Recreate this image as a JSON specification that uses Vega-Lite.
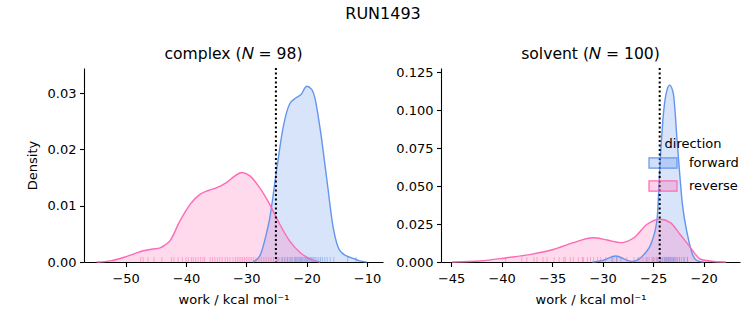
{
  "$schema": "https://vega.github.io/schema/vega-lite/v6.json",
  "padding": {"left": 26, "top": 5, "right": 5, "bottom": 5},
  "spacing": 12,
  "config": {
    "font": "DejaVu Sans",
    "view": {"stroke": null},
    "axis": {
      "grid": false, "domainColor": "black", "tickColor": "black", "labelColor": "black", "titleColor": "black",
      "domainWidth": 1.1, "tickWidth": 1.1, "tickSize": 4.5, "labelPadding": 3.5,
      "labelFontSize": 13, "titleFontSize": 13, "titleFontWeight": "normal", "labelOverlap": false
    },
    "title": {"fontWeight": "normal", "color": "black"}
  },
  "title": {"text": "RUN1493", "fontSize": 16, "anchor": "middle", "offset": 25},
  "datasets": {
    "curves": [
      {"panel": "complex", "direction": "forward", "work": -28.9, "density": 0},
      {"panel": "complex", "direction": "forward", "work": -27.76, "density": 0.0011},
      {"panel": "complex", "direction": "forward", "work": -26.7, "density": 0.0049},
      {"panel": "complex", "direction": "forward", "work": -26.1, "density": 0.0079},
      {"panel": "complex", "direction": "forward", "work": -25.0, "density": 0.0162},
      {"panel": "complex", "direction": "forward", "work": -23.9, "density": 0.0239},
      {"panel": "complex", "direction": "forward", "work": -22.8, "density": 0.0281},
      {"panel": "complex", "direction": "forward", "work": -21.7, "density": 0.0292},
      {"panel": "complex", "direction": "forward", "work": -20.9, "density": 0.0298},
      {"panel": "complex", "direction": "forward", "work": -20.0, "density": 0.0312},
      {"panel": "complex", "direction": "forward", "work": -19.2, "density": 0.0307},
      {"panel": "complex", "direction": "forward", "work": -18.65, "density": 0.0292},
      {"panel": "complex", "direction": "forward", "work": -17.8, "density": 0.0239},
      {"panel": "complex", "direction": "forward", "work": -16.7, "density": 0.015},
      {"panel": "complex", "direction": "forward", "work": -15.6, "density": 0.0061},
      {"panel": "complex", "direction": "forward", "work": -14.5, "density": 0.002},
      {"panel": "complex", "direction": "forward", "work": -13.4, "density": 0.0011},
      {"panel": "complex", "direction": "forward", "work": -12.3, "density": 0.00065},
      {"panel": "complex", "direction": "forward", "work": -11.2, "density": 0.0002},
      {"panel": "complex", "direction": "forward", "work": -10.1, "density": 0},
      {"panel": "complex", "direction": "reverse", "work": -54.8, "density": 0},
      {"panel": "complex", "direction": "reverse", "work": -52.5, "density": 0.0002},
      {"panel": "complex", "direction": "reverse", "work": -50.4, "density": 0.0008},
      {"panel": "complex", "direction": "reverse", "work": -48.5, "density": 0.0015},
      {"panel": "complex", "direction": "reverse", "work": -47.1, "density": 0.002},
      {"panel": "complex", "direction": "reverse", "work": -45.5, "density": 0.0023},
      {"panel": "complex", "direction": "reverse", "work": -44.3, "density": 0.0025},
      {"panel": "complex", "direction": "reverse", "work": -43.5, "density": 0.003},
      {"panel": "complex", "direction": "reverse", "work": -42.7, "density": 0.0037},
      {"panel": "complex", "direction": "reverse", "work": -41.0, "density": 0.0073},
      {"panel": "complex", "direction": "reverse", "work": -39.35, "density": 0.0102},
      {"panel": "complex", "direction": "reverse", "work": -37.7, "density": 0.012},
      {"panel": "complex", "direction": "reverse", "work": -36.3, "density": 0.0127},
      {"panel": "complex", "direction": "reverse", "work": -34.9, "density": 0.0132},
      {"panel": "complex", "direction": "reverse", "work": -33.3, "density": 0.0141},
      {"panel": "complex", "direction": "reverse", "work": -32.0, "density": 0.0152},
      {"panel": "complex", "direction": "reverse", "work": -30.8, "density": 0.0159},
      {"panel": "complex", "direction": "reverse", "work": -29.4, "density": 0.0153},
      {"panel": "complex", "direction": "reverse", "work": -27.8, "density": 0.0132},
      {"panel": "complex", "direction": "reverse", "work": -26.1, "density": 0.0102},
      {"panel": "complex", "direction": "reverse", "work": -24.45, "density": 0.0067},
      {"panel": "complex", "direction": "reverse", "work": -22.8, "density": 0.0037},
      {"panel": "complex", "direction": "reverse", "work": -21.1, "density": 0.0017},
      {"panel": "complex", "direction": "reverse", "work": -18.9, "density": 0.0003},
      {"panel": "complex", "direction": "reverse", "work": -17.8, "density": 0},
      {"panel": "solvent", "direction": "forward", "work": -31.0, "density": 0},
      {"panel": "solvent", "direction": "forward", "work": -30.0, "density": 0.001},
      {"panel": "solvent", "direction": "forward", "work": -28.7, "density": 0.004},
      {"panel": "solvent", "direction": "forward", "work": -27.6, "density": 0.0012},
      {"panel": "solvent", "direction": "forward", "work": -27.0, "density": 0.0003},
      {"panel": "solvent", "direction": "forward", "work": -26.5, "density": 0.0015},
      {"panel": "solvent", "direction": "forward", "work": -25.9, "density": 0.005},
      {"panel": "solvent", "direction": "forward", "work": -25.1, "density": 0.0139},
      {"panel": "solvent", "direction": "forward", "work": -24.6, "density": 0.029},
      {"panel": "solvent", "direction": "forward", "work": -24.3, "density": 0.067},
      {"panel": "solvent", "direction": "forward", "work": -23.95, "density": 0.0997},
      {"panel": "solvent", "direction": "forward", "work": -23.6, "density": 0.114},
      {"panel": "solvent", "direction": "forward", "work": -23.36, "density": 0.1166},
      {"panel": "solvent", "direction": "forward", "work": -23.0, "density": 0.111},
      {"panel": "solvent", "direction": "forward", "work": -22.6, "density": 0.0777},
      {"panel": "solvent", "direction": "forward", "work": -22.1, "density": 0.038},
      {"panel": "solvent", "direction": "forward", "work": -21.6, "density": 0.018},
      {"panel": "solvent", "direction": "forward", "work": -21.1, "density": 0.005},
      {"panel": "solvent", "direction": "forward", "work": -20.6, "density": 0.0008},
      {"panel": "solvent", "direction": "forward", "work": -20.0, "density": 0},
      {"panel": "solvent", "direction": "reverse", "work": -44.9, "density": 0},
      {"panel": "solvent", "direction": "reverse", "work": -42.1, "density": 0.0007},
      {"panel": "solvent", "direction": "reverse", "work": -39.5, "density": 0.0028},
      {"panel": "solvent", "direction": "reverse", "work": -37.1, "density": 0.005},
      {"panel": "solvent", "direction": "reverse", "work": -34.8, "density": 0.0084},
      {"panel": "solvent", "direction": "reverse", "work": -32.9, "density": 0.0128},
      {"panel": "solvent", "direction": "reverse", "work": -30.9, "density": 0.016},
      {"panel": "solvent", "direction": "reverse", "work": -29.55, "density": 0.0145},
      {"panel": "solvent", "direction": "reverse", "work": -28.2, "density": 0.0128},
      {"panel": "solvent", "direction": "reverse", "work": -26.9, "density": 0.016},
      {"panel": "solvent", "direction": "reverse", "work": -25.6, "density": 0.0249},
      {"panel": "solvent", "direction": "reverse", "work": -24.3, "density": 0.0282},
      {"panel": "solvent", "direction": "reverse", "work": -23.3, "density": 0.026},
      {"panel": "solvent", "direction": "reverse", "work": -22.3, "density": 0.018},
      {"panel": "solvent", "direction": "reverse", "work": -21.3, "density": 0.0095},
      {"panel": "solvent", "direction": "reverse", "work": -20.3, "density": 0.0018},
      {"panel": "solvent", "direction": "reverse", "work": -19.0, "density": 0.0003},
      {"panel": "solvent", "direction": "reverse", "work": -17.8, "density": 0}
    ],
    "rug": [
      {"panel": "complex", "direction": "reverse", "work": -47.5},
      {"panel": "complex", "direction": "reverse", "work": -47.1},
      {"panel": "complex", "direction": "reverse", "work": -46.3},
      {"panel": "complex", "direction": "reverse", "work": -45.3},
      {"panel": "complex", "direction": "reverse", "work": -44.0},
      {"panel": "complex", "direction": "reverse", "work": -42.4},
      {"panel": "complex", "direction": "reverse", "work": -42.0},
      {"panel": "complex", "direction": "reverse", "work": -41.3},
      {"panel": "complex", "direction": "reverse", "work": -40.6},
      {"panel": "complex", "direction": "reverse", "work": -40.0},
      {"panel": "complex", "direction": "reverse", "work": -39.6},
      {"panel": "complex", "direction": "reverse", "work": -39.1},
      {"panel": "complex", "direction": "reverse", "work": -38.8},
      {"panel": "complex", "direction": "reverse", "work": -38.4},
      {"panel": "complex", "direction": "reverse", "work": -38.0},
      {"panel": "complex", "direction": "reverse", "work": -37.6},
      {"panel": "complex", "direction": "reverse", "work": -37.2},
      {"panel": "complex", "direction": "reverse", "work": -36.9},
      {"panel": "complex", "direction": "reverse", "work": -36.0},
      {"panel": "complex", "direction": "reverse", "work": -35.6},
      {"panel": "complex", "direction": "reverse", "work": -35.2},
      {"panel": "complex", "direction": "reverse", "work": -34.8},
      {"panel": "complex", "direction": "reverse", "work": -34.4},
      {"panel": "complex", "direction": "reverse", "work": -34.0},
      {"panel": "complex", "direction": "reverse", "work": -33.5},
      {"panel": "complex", "direction": "reverse", "work": -33.1},
      {"panel": "complex", "direction": "reverse", "work": -32.7},
      {"panel": "complex", "direction": "reverse", "work": -32.2},
      {"panel": "complex", "direction": "reverse", "work": -31.8},
      {"panel": "complex", "direction": "reverse", "work": -31.5},
      {"panel": "complex", "direction": "reverse", "work": -31.2},
      {"panel": "complex", "direction": "reverse", "work": -30.9},
      {"panel": "complex", "direction": "reverse", "work": -30.6},
      {"panel": "complex", "direction": "reverse", "work": -30.3},
      {"panel": "complex", "direction": "reverse", "work": -30.0},
      {"panel": "complex", "direction": "reverse", "work": -29.7},
      {"panel": "complex", "direction": "reverse", "work": -29.4},
      {"panel": "complex", "direction": "reverse", "work": -29.1},
      {"panel": "complex", "direction": "reverse", "work": -28.8},
      {"panel": "complex", "direction": "reverse", "work": -28.4},
      {"panel": "complex", "direction": "reverse", "work": -27.9},
      {"panel": "complex", "direction": "reverse", "work": -27.5},
      {"panel": "complex", "direction": "reverse", "work": -27.1},
      {"panel": "complex", "direction": "reverse", "work": -26.7},
      {"panel": "complex", "direction": "reverse", "work": -26.3},
      {"panel": "complex", "direction": "reverse", "work": -25.9},
      {"panel": "complex", "direction": "reverse", "work": -25.5},
      {"panel": "complex", "direction": "reverse", "work": -25.0},
      {"panel": "complex", "direction": "reverse", "work": -24.6},
      {"panel": "complex", "direction": "reverse", "work": -24.2},
      {"panel": "complex", "direction": "reverse", "work": -23.7},
      {"panel": "complex", "direction": "reverse", "work": -23.2},
      {"panel": "complex", "direction": "reverse", "work": -22.6},
      {"panel": "complex", "direction": "reverse", "work": -21.8},
      {"panel": "complex", "direction": "reverse", "work": -20.9},
      {"panel": "complex", "direction": "reverse", "work": -19.8},
      {"panel": "complex", "direction": "forward", "work": -24.8},
      {"panel": "complex", "direction": "forward", "work": -24.0},
      {"panel": "complex", "direction": "forward", "work": -23.6},
      {"panel": "complex", "direction": "forward", "work": -23.2},
      {"panel": "complex", "direction": "forward", "work": -22.9},
      {"panel": "complex", "direction": "forward", "work": -22.6},
      {"panel": "complex", "direction": "forward", "work": -22.3},
      {"panel": "complex", "direction": "forward", "work": -22.0},
      {"panel": "complex", "direction": "forward", "work": -21.8},
      {"panel": "complex", "direction": "forward", "work": -21.6},
      {"panel": "complex", "direction": "forward", "work": -21.4},
      {"panel": "complex", "direction": "forward", "work": -21.2},
      {"panel": "complex", "direction": "forward", "work": -21.0},
      {"panel": "complex", "direction": "forward", "work": -20.8},
      {"panel": "complex", "direction": "forward", "work": -20.6},
      {"panel": "complex", "direction": "forward", "work": -20.4},
      {"panel": "complex", "direction": "forward", "work": -20.2},
      {"panel": "complex", "direction": "forward", "work": -20.0},
      {"panel": "complex", "direction": "forward", "work": -19.8},
      {"panel": "complex", "direction": "forward", "work": -19.6},
      {"panel": "complex", "direction": "forward", "work": -19.4},
      {"panel": "complex", "direction": "forward", "work": -19.2},
      {"panel": "complex", "direction": "forward", "work": -19.0},
      {"panel": "complex", "direction": "forward", "work": -18.8},
      {"panel": "complex", "direction": "forward", "work": -18.6},
      {"panel": "complex", "direction": "forward", "work": -18.3},
      {"panel": "complex", "direction": "forward", "work": -18.0},
      {"panel": "complex", "direction": "forward", "work": -17.7},
      {"panel": "complex", "direction": "forward", "work": -17.4},
      {"panel": "complex", "direction": "forward", "work": -17.0},
      {"panel": "complex", "direction": "forward", "work": -16.6},
      {"panel": "complex", "direction": "forward", "work": -16.1},
      {"panel": "complex", "direction": "forward", "work": -15.5},
      {"panel": "complex", "direction": "forward", "work": -13.2},
      {"panel": "complex", "direction": "forward", "work": -11.8},
      {"panel": "solvent", "direction": "reverse", "work": -39.6},
      {"panel": "solvent", "direction": "reverse", "work": -38.0},
      {"panel": "solvent", "direction": "reverse", "work": -37.5},
      {"panel": "solvent", "direction": "reverse", "work": -36.8},
      {"panel": "solvent", "direction": "reverse", "work": -36.5},
      {"panel": "solvent", "direction": "reverse", "work": -35.9},
      {"panel": "solvent", "direction": "reverse", "work": -35.5},
      {"panel": "solvent", "direction": "reverse", "work": -34.8},
      {"panel": "solvent", "direction": "reverse", "work": -34.3},
      {"panel": "solvent", "direction": "reverse", "work": -33.85},
      {"panel": "solvent", "direction": "reverse", "work": -33.7},
      {"panel": "solvent", "direction": "reverse", "work": -33.2},
      {"panel": "solvent", "direction": "reverse", "work": -32.9},
      {"panel": "solvent", "direction": "reverse", "work": -32.4},
      {"panel": "solvent", "direction": "reverse", "work": -32.0},
      {"panel": "solvent", "direction": "reverse", "work": -31.9},
      {"panel": "solvent", "direction": "reverse", "work": -31.5},
      {"panel": "solvent", "direction": "reverse", "work": -31.2},
      {"panel": "solvent", "direction": "reverse", "work": -30.9},
      {"panel": "solvent", "direction": "reverse", "work": -30.5},
      {"panel": "solvent", "direction": "reverse", "work": -30.2},
      {"panel": "solvent", "direction": "reverse", "work": -29.7},
      {"panel": "solvent", "direction": "reverse", "work": -29.1},
      {"panel": "solvent", "direction": "reverse", "work": -28.6},
      {"panel": "solvent", "direction": "reverse", "work": -27.6},
      {"panel": "solvent", "direction": "reverse", "work": -26.9},
      {"panel": "solvent", "direction": "reverse", "work": -26.3},
      {"panel": "solvent", "direction": "reverse", "work": -26.0},
      {"panel": "solvent", "direction": "reverse", "work": -25.7},
      {"panel": "solvent", "direction": "reverse", "work": -25.4},
      {"panel": "solvent", "direction": "reverse", "work": -25.1},
      {"panel": "solvent", "direction": "reverse", "work": -24.9},
      {"panel": "solvent", "direction": "reverse", "work": -24.7},
      {"panel": "solvent", "direction": "reverse", "work": -24.5},
      {"panel": "solvent", "direction": "reverse", "work": -24.3},
      {"panel": "solvent", "direction": "reverse", "work": -24.1},
      {"panel": "solvent", "direction": "reverse", "work": -23.9},
      {"panel": "solvent", "direction": "reverse", "work": -23.7},
      {"panel": "solvent", "direction": "reverse", "work": -23.5},
      {"panel": "solvent", "direction": "reverse", "work": -23.3},
      {"panel": "solvent", "direction": "reverse", "work": -23.0},
      {"panel": "solvent", "direction": "reverse", "work": -22.7},
      {"panel": "solvent", "direction": "reverse", "work": -22.4},
      {"panel": "solvent", "direction": "reverse", "work": -22.0},
      {"panel": "solvent", "direction": "reverse", "work": -21.6},
      {"panel": "solvent", "direction": "forward", "work": -29.0},
      {"panel": "solvent", "direction": "forward", "work": -28.6},
      {"panel": "solvent", "direction": "forward", "work": -28.2},
      {"panel": "solvent", "direction": "forward", "work": -26.5},
      {"panel": "solvent", "direction": "forward", "work": -25.6},
      {"panel": "solvent", "direction": "forward", "work": -25.0},
      {"panel": "solvent", "direction": "forward", "work": -24.6},
      {"panel": "solvent", "direction": "forward", "work": -24.3},
      {"panel": "solvent", "direction": "forward", "work": -24.1},
      {"panel": "solvent", "direction": "forward", "work": -23.9},
      {"panel": "solvent", "direction": "forward", "work": -23.8},
      {"panel": "solvent", "direction": "forward", "work": -23.7},
      {"panel": "solvent", "direction": "forward", "work": -23.6},
      {"panel": "solvent", "direction": "forward", "work": -23.5},
      {"panel": "solvent", "direction": "forward", "work": -23.4},
      {"panel": "solvent", "direction": "forward", "work": -23.3},
      {"panel": "solvent", "direction": "forward", "work": -23.2},
      {"panel": "solvent", "direction": "forward", "work": -23.1},
      {"panel": "solvent", "direction": "forward", "work": -23.0},
      {"panel": "solvent", "direction": "forward", "work": -22.9},
      {"panel": "solvent", "direction": "forward", "work": -22.8},
      {"panel": "solvent", "direction": "forward", "work": -22.6},
      {"panel": "solvent", "direction": "forward", "work": -22.4},
      {"panel": "solvent", "direction": "forward", "work": -22.2},
      {"panel": "solvent", "direction": "forward", "work": -21.9},
      {"panel": "solvent", "direction": "forward", "work": -21.6}
    ],
    "vlines": [
      {"panel": "complex", "work": -25.1},
      {"panel": "solvent", "work": -24.35}
    ]
  },
  "hconcat": [
    {
      "width": 299, "height": 194,
      "title": {"text": "complex (𝑁 = 98)", "fontSize": 15.6},
      "layer": [
        {
          "data": {"name": "curves"},
          "transform": [{"filter": "datum.panel === 'complex'"}],
          "mark": {"type": "area", "fillOpacity": 0.25, "interpolate": "monotone"},
          "encoding": {
            "x": {"field": "work", "type": "quantitative", "scale": {"domain": [-56.9, -7.35], "nice": false, "zero": false},
                  "axis": {"title": "work / kcal mol⁻¹", "values": [-50, -40, -30, -20, -10], "tickCount": 20, "labelExpr": "replace(format(datum.value, 'd'), '-', '−')", "labelOverlap": false, "labelPadding": 5.5, "titlePadding": 8}},
            "y": {"field": "density", "type": "quantitative", "stack": null, "scale": {"domain": [0, 0.03445], "nice": false},
                  "axis": {"title": "Density", "values": [0, 0.01, 0.02, 0.03], "tickCount": 20, "format": ".2f", "titlePadding": 8, "labelOverlap": false}},
            "color": {"field": "direction", "type": "nominal",
                      "scale": {"domain": ["forward", "reverse"], "range": ["#6495ED", "#FF69B4"]},
                      "legend": {"orient": "none", "legendX": 564, "legendY": 70, "title": "direction", "titleFontSize": 13, "titleFontWeight": "normal", "titleAnchor": "middle", "titleColor": "black", "titlePadding": -3,
                                 "labelFontSize": 13, "labelColor": "black", "labelOffset": 11, "rowPadding": -4,
                                 "symbolType": "M-1,-0.36H1V0.36H-1Z", "symbolSize": 784,
                                 "encode": {"symbols": {"update": {"fill": {"scale": "color", "field": "value"}, "fillOpacity": {"value": 0.3}, "stroke": {"scale": "color", "field": "value"}, "strokeWidth": {"value": 1.2}, "opacity": {"value": 1}}}}}}
          }
        },
        {
          "data": {"name": "curves"},
          "transform": [{"filter": "datum.panel === 'complex'"}],
          "mark": {"type": "line", "strokeWidth": 1.4, "interpolate": "monotone"},
          "encoding": {
            "x": {"field": "work", "type": "quantitative"},
            "y": {"field": "density", "type": "quantitative"},
            "color": {"field": "direction", "type": "nominal"}
          }
        },
        {
          "data": {"name": "rug"},
          "transform": [{"filter": "datum.panel === 'complex'"}],
          "mark": {"type": "rule", "strokeWidth": 1, "opacity": 0.5},
          "encoding": {
            "x": {"field": "work", "type": "quantitative"},
            "y": {"datum": 0},
            "y2": {"datum": 0.00089},
            "color": {"field": "direction", "type": "nominal"}
          }
        },
        {
          "data": {"name": "vlines"},
          "transform": [{"filter": "datum.panel === 'complex'"}],
          "mark": {"type": "rule", "color": "black", "strokeWidth": 2, "strokeDash": [2, 2.5]},
          "encoding": {
            "x": {"field": "work", "type": "quantitative"}
          }
        }
      ]
    },
    {
      "width": 299, "height": 194,
      "title": {"text": "solvent (𝑁 = 100)", "fontSize": 15.6},
      "layer": [
        {
          "data": {"name": "curves"},
          "transform": [{"filter": "datum.panel === 'solvent'"}],
          "mark": {"type": "area", "fillOpacity": 0.25, "interpolate": "monotone"},
          "encoding": {
            "x": {"field": "work", "type": "quantitative", "scale": {"domain": [-46.0, -16.4], "nice": false, "zero": false},
                  "axis": {"title": "work / kcal mol⁻¹", "values": [-45, -40, -35, -30, -25, -20], "tickCount": 20, "labelExpr": "replace(format(datum.value, 'd'), '-', '−')", "labelOverlap": false, "labelPadding": 5.5, "titlePadding": 8}},
            "y": {"field": "density", "type": "quantitative", "stack": null, "scale": {"domain": [0, 0.1279], "nice": false},
                  "axis": {"title": null, "values": [0, 0.025, 0.05, 0.075, 0.1, 0.125], "tickCount": 20, "format": ".3f", "labelOverlap": false}},
            "color": {"field": "direction", "type": "nominal"}
          }
        },
        {
          "data": {"name": "curves"},
          "transform": [{"filter": "datum.panel === 'solvent'"}],
          "mark": {"type": "line", "strokeWidth": 1.4, "interpolate": "monotone"},
          "encoding": {
            "x": {"field": "work", "type": "quantitative"},
            "y": {"field": "density", "type": "quantitative"},
            "color": {"field": "direction", "type": "nominal"}
          }
        },
        {
          "data": {"name": "rug"},
          "transform": [{"filter": "datum.panel === 'solvent'"}],
          "mark": {"type": "rule", "strokeWidth": 1, "opacity": 0.5},
          "encoding": {
            "x": {"field": "work", "type": "quantitative"},
            "y": {"datum": 0},
            "y2": {"datum": 0.0033},
            "color": {"field": "direction", "type": "nominal"}
          }
        },
        {
          "data": {"name": "vlines"},
          "transform": [{"filter": "datum.panel === 'solvent'"}],
          "mark": {"type": "rule", "color": "black", "strokeWidth": 2, "strokeDash": [2, 2.5]},
          "encoding": {
            "x": {"field": "work", "type": "quantitative"}
          }
        }
      ]
    }
  ]
}
